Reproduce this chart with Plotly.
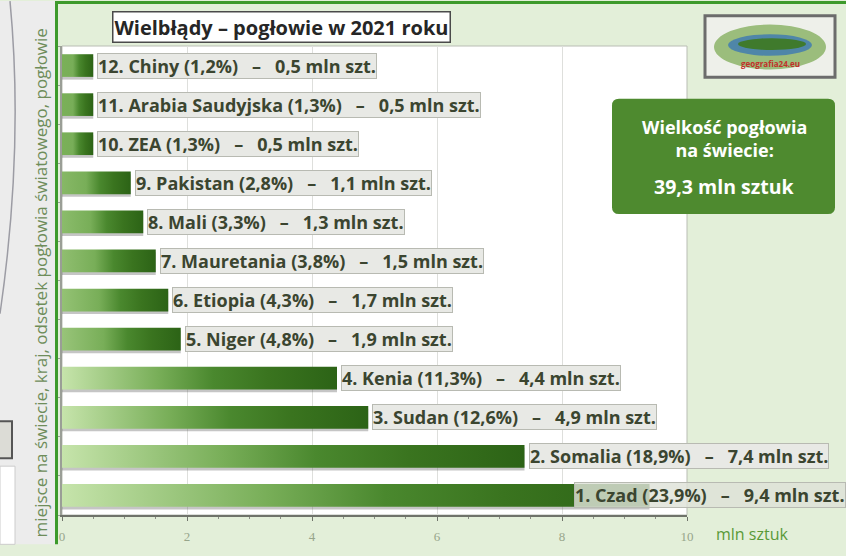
import plotly.graph_objects as go

# Camel population 2021, top 12 countries (listed top to bottom)
ranks = [12, 11, 10, 9, 8, 7, 6, 5, 4, 3, 2, 1]
countries = ["Chiny", "Arabia Saudyjska", "ZEA", "Pakistan", "Mali", "Mauretania",
             "Etiopia", "Niger", "Kenia", "Sudan", "Somalia", "Czad"]
shares = [1.2, 1.3, 1.3, 2.8, 3.3, 3.8, 4.3, 4.8, 11.3, 12.6, 18.9, 23.9]
values = [0.5, 0.5, 0.5, 1.1, 1.3, 1.5, 1.7, 1.9, 4.4, 4.9, 7.4, 9.4]
world_total = 39.3
x_ticks = [0, 2, 4, 6, 8, 10]

W, H = 846, 556
ML, MR, MT, MB = 62, 159, 46, 30
PW, PH = W - ML - MR, H - MT - MB
FONT = "Open Sans"
TEXT_COL = "#3b4530"


def px(x):
    return (x - ML) / PW


def py(y):
    return (H - MB - y) / PH


def pl(v):
    return f"{v:.1f}".replace(".", ",")


def mix(c1, c2, t):
    a = [int(c1[i:i + 2], 16) for i in (1, 3, 5)]
    b = [int(c2[i:i + 2], 16) for i in (1, 3, 5)]
    return "#" + "".join(f"{round(a[k] + (b[k] - a[k]) * t):02x}" for k in range(3))


def note(x, y, text, **kw):
    d = dict(xref="paper", yref="paper", x=px(x), y=py(y), text=text, showarrow=False,
             xanchor="center", yanchor="middle")
    d.update(kw)
    return d


n = len(values)
half = 0.29
fig = go.Figure()

for i, v in enumerate(values):
    pos = n - 1 - i
    # soft shadow under each bar
    fig.add_trace(go.Scatter(
        x=[0, v, v, 0, 0],
        y=[pos - half - 0.07, pos - half - 0.07, pos + half - 0.07, pos + half - 0.07, pos - half - 0.07],
        fill="toself", mode="lines", line=dict(width=0),
        fillcolor="rgba(90,90,90,0.35)", hoverinfo="skip", showlegend=False))
    start = mix("#6fa84c", "#c6e4ab", min(1.0, v / 4.0))
    fig.add_trace(go.Scatter(
        x=[0, v, v, 0, 0],
        y=[pos - half, pos - half, pos + half, pos + half, pos - half],
        fill="toself", mode="lines", line=dict(width=0),
        fillgradient=dict(type="horizontal",
                          colorscale=[[0, start], [0.35, "#78ae58"], [0.55, "#4a882e"],
                                      [0.75, "#3a741f"], [1, "#2c6316"]]),
        hoverinfo="skip", showlegend=False))

annotations = []
sp = "\u00a0\u00a0\u00a0"
for i, v in enumerate(values):
    pos = n - 1 - i
    text = f"{ranks[i]}. {countries[i]} ({pl(shares[i])}%){sp}–{sp}{pl(v)} mln szt."
    if v > 8:
        common = dict(xref="paper", x=px(W), xanchor="right")
        bg = "rgba(222,226,216,0.82)"
    else:
        common = dict(xref="x", x=v, xanchor="left", xshift=4)
        bg = "#e8e9e5"
    annotations.append(dict(
        **common, yref="y", y=pos, yanchor="middle", text=text, showarrow=False,
        font=dict(family=FONT, size=18, color=TEXT_COL, weight="bold"),
        bgcolor=bg, borderpad=0, borderwidth=1, bordercolor="#b8bab2"))

# title box
title = "Wielbłądy – pogłowie w 2021 roku"
annotations.append(note(281, 27, title,
                        font=dict(family=FONT, size=20, color="#262626", weight="bold"),
                        bgcolor="#ffffff", borderpad=1, borderwidth=1.5, bordercolor="#4a4a4a"))

# info box texts
annotations.append(note(724, 141, "Wielkość pogłowia<br>na świecie:",
                        font=dict(family=FONT, size=18, color="#ffffff", weight="bold")))
annotations.append(note(724, 190, f"{pl(world_total)} mln sztuk",
                        font=dict(family=FONT, size=19.5, color="#ffffff", weight="bold")))

# axis captions
annotations.append(note(40, 289, "miejsce na świecie, kraj, odsetek pogłowia światowego, pogłowie",
                        textangle=-90, font=dict(family=FONT, size=17, color="#6e8d5a")))
annotations.append(note(752, 545, "mln sztuk", font=dict(family=FONT, size=16, color="#5a9a38")))

# logo caption
annotations.append(note(770, 64, "geografia24.eu",
                        font=dict(family=FONT, size=8, color="#c2302a", weight="bold")))

shapes = [
    # neighbouring panel strip on the left
    dict(type="rect", xref="paper", yref="paper", x0=px(0), x1=px(55), y0=py(0), y1=py(556),
         fillcolor="#ececec", line=dict(width=0), layer="below"),
    dict(type="path", xref="paper", yref="paper",
         path=f"M {px(10)},{py(0)} Q {px(24)},{py(150)} {px(0)},{py(320)}",
         line=dict(color="#9c9ca4", width=1.5)),
    dict(type="rect", xref="paper", yref="paper", x0=px(-2), x1=px(12), y0=py(430), y1=py(468),
         fillcolor="#dcdcd6", line=dict(color="#555555", width=2)),
    dict(type="rect", xref="paper", yref="paper", x0=px(0), x1=px(15), y0=py(476), y1=py(556),
         fillcolor="#ffffff", line=dict(color="#cccccc", width=1)),
    # green frame
    dict(type="line", xref="paper", yref="paper", x0=px(56.5), x1=px(56.5), y0=py(0), y1=py(556),
         line=dict(color="#3d9a2b", width=3)),
    dict(type="line", xref="paper", yref="paper", x0=px(55), x1=px(846), y0=py(1.5), y1=py(1.5),
         line=dict(color="#3d9a2b", width=3)),
    # plot area frame
    dict(type="rect", xref="paper", yref="paper", x0=0, x1=1, y0=0, y1=1,
         line=dict(color="#b9bdb4", width=1), layer="below"),
    # logo frame
    dict(type="rect", xref="paper", yref="paper", x0=px(705), x1=px(835), y0=py(15), y1=py(78),
         fillcolor="#eef0ea", line=dict(color="#6c6c6c", width=3)),
    dict(type="circle", xref="paper", yref="paper", x0=px(714), x1=px(826), y0=py(24), y1=py(70),
         fillcolor="#9bbd7c", line=dict(width=0)),
    dict(type="circle", xref="paper", yref="paper", x0=px(728), x1=px(812), y0=py(34), y1=py(56),
         fillcolor="#4f86a8", line=dict(width=0)),
    dict(type="circle", xref="paper", yref="paper", x0=px(738), x1=px(806), y0=py(38), y1=py(50),
         fillcolor="#3f7a2c", line=dict(width=0)),
]

# info box (rounded)
x0, x1, y0, y1, r = 612, 835, 100, 218, 7
path = (f"M {px(x0 + r)},{py(y0)} L {px(x1 - r)},{py(y0)} Q {px(x1)},{py(y0)} {px(x1)},{py(y0 + r)} "
        f"L {px(x1)},{py(y1 - r)} Q {px(x1)},{py(y1)} {px(x1 - r)},{py(y1)} "
        f"L {px(x0 + r)},{py(y1)} Q {px(x0)},{py(y1)} {px(x0)},{py(y1 - r)} "
        f"L {px(x0)},{py(y0 + r)} Q {px(x0)},{py(y0)} {px(x0 + r)},{py(y0)} Z")
shapes.append(dict(type="path", xref="paper", yref="paper", path=path,
                   fillcolor="#4e8a2f", line=dict(width=0)))

fig.update_layout(
    width=W, height=H,
    margin=dict(l=ML, r=MR, t=MT, b=MB),
    paper_bgcolor="#e3efd9", plot_bgcolor="#ffffff",
    showlegend=False,
    xaxis=dict(range=[0, 10], tickvals=x_ticks, ticktext=[str(t) for t in x_ticks],
               showgrid=True, gridcolor="#dedfdc", gridwidth=1, zeroline=False,
               showline=True, linecolor="#6f736a", linewidth=1.5,
               ticks="outside", ticklen=4, tickcolor="#6f736a", ticklabelstandoff=5,
               minor=dict(dtick=0.5, ticks="outside", ticklen=2, tickcolor="#8a8e85", showgrid=False),
               tickfont=dict(family="Liberation Serif", size=13, color="#97a58b"),
               fixedrange=True),
    yaxis=dict(range=[-0.5, n - 0.5], showticklabels=False, showgrid=False, zeroline=False,
               tickvals=[k - 0.5 for k in range(n + 1)], ticks="outside", ticklen=4,
               tickcolor="#9a9e96", showline=True, linecolor="#9a9e96", linewidth=1.5,
               fixedrange=True),
    shapes=shapes,
    annotations=annotations,
)

fig.write_html("out.html")
